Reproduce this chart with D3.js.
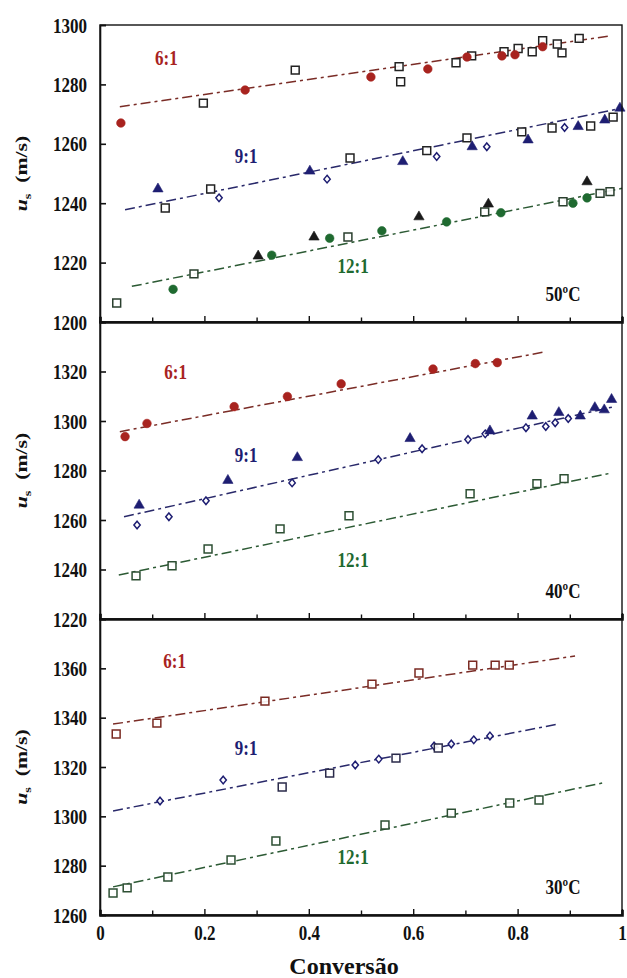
<!DOCTYPE html>
<html>
<head>
<meta charset="utf-8">
<script src="https://cdn.jsdelivr.net/npm/d3@7"></script>
<style>
  body { margin: 0; background: #fff; }
  text { font-family: "Liberation Serif", "Times New Roman", serif; font-weight: bold; }
</style>
</head>
<body>
<svg id="chart" width="627" height="978"></svg>
<script>
// ---------- data: [conversion, u_s (m/s)] ----------
const xTickValues = [0, 0.1, 0.2, 0.3, 0.4, 0.5, 0.6, 0.7, 0.8, 0.9, 1];
const xTickLabels = ["0", "0.2", "0.4", "0.6", "0.8", "1"];

// 50 °C
const yTicks50 = [1200, 1220, 1240, 1260, 1280, 1300];
const r6_50_circles = [[0.04,1267],[0.278,1278.1],[0.519,1282.5],[0.628,1285.2],[0.703,1289.2],[0.77,1289.6],[0.795,1290],[0.848,1292.7]];
const r6_50_squares = [[0.198,1273.7],[0.374,1284.8],[0.573,1286],[0.576,1280.9],[0.682,1287.3],[0.712,1289.6],[0.774,1291],[0.801,1292.1],[0.828,1291],[0.848,1294.7],[0.876,1293.6],[0.885,1290.6],[0.918,1295.5]];
const r6_50_fit = [[0.038,1272.5],[0.977,1296.3]];
const r9_50_triangles = [[0.111,1244.8],[0.402,1250.8],[0.58,1254],[0.713,1259],[0.82,1261.3],[0.916,1265.8],[0.967,1268],[0.996,1272]];
const r9_50_squares = [[0.125,1238.4],[0.212,1244.8],[0.479,1255.2],[0.626,1257.7],[0.703,1262],[0.808,1264],[0.866,1265.3],[0.94,1266],[0.983,1269]];
const r9_50_diamonds = [[0.228,1241.8],[0.435,1248.1],[0.645,1255.7],[0.741,1259],[0.89,1265.5]];
const r9_50_fit = [[0.048,1237.8],[1.0,1272]];
const r12_50_circles = [[0.14,1211],[0.329,1222.5],[0.44,1228.2],[0.54,1230.7],[0.664,1233.7],[0.768,1236.8],[0.906,1240],[0.933,1241.8]];
const r12_50_triangles = [[0.303,1222.2],[0.41,1228.6],[0.611,1235.4],[0.744,1239.7],[0.933,1247.2]];
const r12_50_squares = [[0.032,1206.4],[0.18,1216.2],[0.475,1228.6],[0.737,1237.1],[0.887,1240.5],[0.958,1243.3],[0.977,1243.9]];
const r12_50_fit = [[0.061,1212],[1.0,1245]];

// 40 °C
const yTicks40 = [1220, 1240, 1260, 1280, 1300, 1320];
const r6_40_circles = [[0.048,1293.7],[0.09,1299],[0.257,1305.8],[0.359,1309.9],[0.462,1315],[0.638,1321],[0.719,1323.2],[0.761,1323.6]];
const r6_40_fit = [[0.038,1295.7],[0.854,1328]];
const r9_40_triangles = [[0.075,1266],[0.245,1276],[0.378,1285.2],[0.594,1292.9],[0.747,1296],[0.828,1302],[0.879,1303.4],[0.92,1302],[0.948,1305.4],[0.966,1304.5],[0.98,1308.7]];
const r9_40_diamonds = [[0.071,1258],[0.132,1261.3],[0.203,1267.8],[0.368,1275],[0.533,1284.4],[0.617,1288.8],[0.705,1292.5],[0.738,1294.8],[0.816,1297.3],[0.854,1297.8],[0.872,1299.3],[0.897,1301]];
const r9_40_fit = [[0.046,1261.3],[0.985,1305.8]];
const r12_40_squares = [[0.069,1237.4],[0.138,1241.5],[0.207,1248.3],[0.345,1256.4],[0.477,1261.7],[0.709,1270.6],[0.837,1274.7],[0.889,1276.7]];
const r12_40_fit = [[0.036,1237.8],[0.98,1279]];

// 30 °C
const yTicks30 = [1260, 1280, 1300, 1320, 1340, 1360];
const r6_30_squares = [[0.031,1333.4],[0.109,1337.8],[0.316,1346.7],[0.521,1353.6],[0.611,1358.1],[0.714,1361.3],[0.757,1361.3],[0.784,1361.3]];
const r6_30_fit = [[0.025,1337.4],[0.91,1365]];
const r9_30_diamonds = [[0.115,1306.2],[0.236,1314.7],[0.489,1320.8],[0.534,1323.2],[0.64,1328.5],[0.673,1329.3],[0.716,1331],[0.747,1332.6]];
const r9_30_squares = [[0.349,1311.9],[0.44,1317.5],[0.567,1323.6],[0.648,1327.7]];
const r9_30_fit = [[0.025,1302.2],[0.877,1337.4]];
const r12_30_squares = [[0.025,1268.9],[0.052,1271],[0.13,1275.4],[0.251,1282.3],[0.337,1290],[0.546,1296.5],[0.673,1301.3],[0.785,1305.4],[0.841,1306.6]];
const r12_30_fit = [[0.025,1271.4],[0.962,1313.5]];

// ---------- styling ----------
const RED = "#a8231f", NAVY = "#1e1e72", GREEN = "#1f6a30";
const LINE_RED = "#7a2c26", LINE_NAVY = "#29296a", LINE_GREEN = "#2c5a34";

const panels = [
  { temp: "50ºC", domain: [1200, 1300], ticks: yTicks50, top: 25, bottom: 322,
    labels: [["6:1", RED, 0.127, 1286.5], ["9:1", NAVY, 0.28, 1253.5], ["12:1", GREEN, 0.485, 1216.5]],
    series: [
      { fit: r6_50_fit, line: LINE_RED, marks: [
        { shape: "square", data: r6_50_squares, stroke: "#222" },
        { shape: "circle", data: r6_50_circles, fill: RED } ] },
      { fit: r9_50_fit, line: LINE_NAVY, marks: [
        { shape: "square", data: r9_50_squares, stroke: "#222" },
        { shape: "diamond", data: r9_50_diamonds, stroke: NAVY },
        { shape: "triangle", data: r9_50_triangles, fill: NAVY } ] },
      { fit: r12_50_fit, line: LINE_GREEN, marks: [
        { shape: "square", data: r12_50_squares, stroke: "#2a3f2e" },
        { shape: "triangle", data: r12_50_triangles, fill: "#1a1a1a" },
        { shape: "circle", data: r12_50_circles, fill: GREEN } ] }
    ] },
  { temp: "40ºC", domain: [1220, 1340], ticks: yTicks40, top: 322, bottom: 619,
    labels: [["6:1", RED, 0.145, 1317], ["9:1", NAVY, 0.28, 1283.5], ["12:1", GREEN, 0.485, 1241]],
    series: [
      { fit: r6_40_fit, line: LINE_RED, marks: [
        { shape: "circle", data: r6_40_circles, fill: RED } ] },
      { fit: r9_40_fit, line: LINE_NAVY, marks: [
        { shape: "diamond", data: r9_40_diamonds, stroke: NAVY },
        { shape: "triangle", data: r9_40_triangles, fill: NAVY } ] },
      { fit: r12_40_fit, line: LINE_GREEN, marks: [
        { shape: "square", data: r12_40_squares, stroke: "#2d4f33" } ] }
    ] },
  { temp: "30ºC", domain: [1260, 1380], ticks: yTicks30, top: 619, bottom: 915,
    labels: [["6:1", RED, 0.143, 1360], ["9:1", NAVY, 0.28, 1325], ["12:1", GREEN, 0.485, 1280.5]],
    series: [
      { fit: r6_30_fit, line: LINE_RED, marks: [
        { shape: "square", data: r6_30_squares, stroke: "#7a2a22" } ] },
      { fit: r9_30_fit, line: LINE_NAVY, marks: [
        { shape: "diamond", data: r9_30_diamonds, stroke: NAVY },
        { shape: "square", data: r9_30_squares, stroke: "#2a2a4a" } ] },
      { fit: r12_30_fit, line: LINE_GREEN, marks: [
        { shape: "square", data: r12_30_squares, stroke: "#2d4f33" } ] }
    ] }
];

const LEFT = 100, RIGHT = 622;
const STRETCH = 1.22;   // tall, narrow lettering

const svg = d3.select("#chart");
const x = d3.scaleLinear().domain([0, 1]).range([LEFT, RIGHT]);

const diamondSymbol = {
  draw(ctx, size) {
    const w = Math.sqrt(size) * 0.5, h = w * 1.2;
    ctx.moveTo(0, -h); ctx.lineTo(w, 0); ctx.lineTo(0, h); ctx.lineTo(-w, 0); ctx.closePath();
  }
};
const symbolFor = {
  square: d3.symbol(d3.symbolSquare, 62),
  circle: d3.symbol(d3.symbolCircle, 58),
  triangle: d3.symbol(d3.symbolTriangle, 46),
  diamond: d3.symbol(diamondSymbol, 40)
};

function stretchedText(g, tx, ty, str, size, anchor, k) {
  return g.append("text")
    .attr("transform", `translate(${tx},${ty}) scale(1,${k})`)
    .attr("text-anchor", anchor)
    .attr("font-size", size)
    .text(str);
}

panels.forEach((p, i) => {
  const y = d3.scaleLinear().domain(p.domain).range([p.bottom, p.top]);
  const g = svg.append("g");

  // fitted dashed lines
  p.series.forEach(s => {
    g.append("path")
      .datum(s.fit)
      .attr("fill", "none")
      .attr("stroke", s.line)
      .attr("stroke-width", 1.5)
      .attr("stroke-dasharray", "10,4,3,4")
      .attr("d", d3.line().x(d => x(d[0])).y(d => y(d[1])));
  });

  // markers
  p.series.forEach(s => {
    s.marks.forEach(m => {
      g.selectAll(null)
        .data(m.data)
        .join("path")
        .attr("transform", d => `translate(${x(d[0])},${y(d[1])})`)
        .attr("d", symbolFor[m.shape])
        .attr("fill", m.fill ? m.fill : "#fff")
        .attr("fill-opacity", m.fill ? 1 : 0.9)
        .attr("stroke", m.fill ? m.fill : m.stroke)
        .attr("stroke-width", m.fill ? 0.6 : 1.5);
    });
  });

  // ratio labels and temperature
  p.labels.forEach(([t, c, cx, cy]) => {
    stretchedText(g, x(cx), y(cy), t, 17, "middle", STRETCH).attr("fill", c);
  });
  stretchedText(g, x(0.887), y(p.domain[0] + (p.domain[1] - p.domain[0]) * 0.072), p.temp, 17, "middle", STRETCH)
    .attr("fill", "#111");

  // frame
  g.append("rect")
    .attr("x", LEFT).attr("y", p.top)
    .attr("width", RIGHT - LEFT).attr("height", p.bottom - p.top)
    .attr("fill", "none").attr("stroke", "#111").attr("stroke-width", 1.4);

  // left axis
  const yAxis = g.append("g")
    .attr("transform", `translate(${LEFT},0)`)
    .call(d3.axisLeft(y).tickValues(p.ticks).tickSize(-6).tickPadding(13).tickFormat(d3.format("d")));
  yAxis.select(".domain").attr("stroke", "#111").attr("stroke-width", 1.6);
  yAxis.selectAll(".tick line").attr("stroke", "#111").attr("stroke-width", 1.6);
  yAxis.selectAll(".tick text")
    .attr("font-family", null).attr("font-size", 17).attr("fill", "#111")
    .attr("dy", null).attr("dominant-baseline", "central")
    .attr("transform", `scale(1,${STRETCH})`)
    .attr("y", d => 0);
  yAxis.selectAll(".tick").each(function (d) {
    const t = d3.select(this).select("text");
    // keep the centre of each label on its tick after stretching
    t.attr("transform", `translate(0,0) scale(1,${STRETCH})`);
  });
  yAxis.attr("font-family", null);

  // bottom axis
  const isLast = i === panels.length - 1;
  const xAxis = g.append("g")
    .attr("transform", `translate(0,${p.bottom})`)
    .call(d3.axisBottom(x).tickValues(xTickValues).tickSize(-5).tickPadding(10)
      .tickFormat(d => {
        if (!isLast) return "";
        const lbl = d3.format("")(+d.toFixed(1));
        return xTickLabels.includes(lbl) ? lbl : "";
      }));
  xAxis.attr("font-family", null);
  xAxis.select(".domain").attr("stroke", "#111").attr("stroke-width", 2.6);
  xAxis.selectAll(".tick line")
    .attr("stroke", "#111").attr("stroke-width", 1.4)
    .attr("y2", (d, j) => (j % 2 === 0 ? -6 : -4.5));
  xAxis.selectAll(".tick text")
    .attr("font-size", 17).attr("fill", "#111")
    .attr("transform", `scale(1,${STRETCH})`)
    .attr("y", 10 / STRETCH);

  // y axis title
  const title = g.append("text")
    .attr("transform", `translate(27,${(p.top + p.bottom) / 2}) scale(1,1.28) rotate(-90)`)
    .attr("text-anchor", "middle")
    .attr("font-size", 17)
    .attr("fill", "#111");
  title.append("tspan").attr("font-style", "italic").text("u");
  title.append("tspan").attr("font-size", 11).attr("dy", 4).text("s");
  title.append("tspan").attr("dy", -4).text("\u00a0 (m/s)");
});

// x axis title
svg.append("text")
  .attr("x", 344).attr("y", 974)
  .attr("text-anchor", "middle")
  .attr("font-size", 24)
  .attr("fill", "#111")
  .text("Conversão");
</script>
</body>
</html>
